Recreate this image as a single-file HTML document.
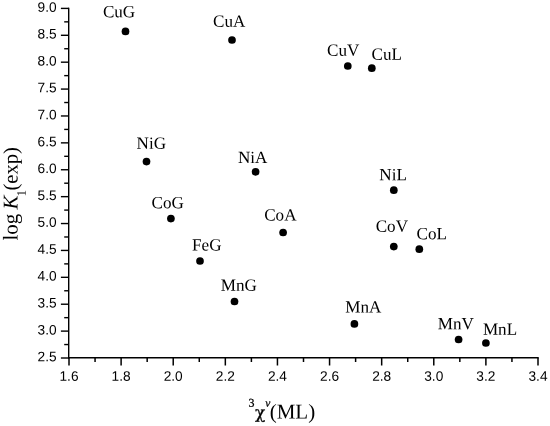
<!DOCTYPE html><html><head><meta charset="utf-8"><title>plot</title><style>html,body{margin:0;padding:0;background:#fff}svg{display:block;will-change:transform}text{text-rendering:geometricPrecision}.t{font-family:"Liberation Sans",sans-serif;font-size:13.7px;fill:#000}.l{font-family:"Liberation Serif",serif;font-size:17.1px;fill:#000}.a{font-family:"Liberation Serif",serif;font-size:21px;fill:#000}.c{font-family:"DejaVu Serif","Liberation Serif",serif;font-size:17px;fill:#000;stroke:#000;stroke-width:.28px}.s{stroke:#000;stroke-width:.25px}</style></head><body>
<svg width="550" height="426" viewBox="0 0 550 426">
<rect width="550" height="426" fill="#fff"/>
<g stroke="#000" stroke-width="1.25" fill="none" stroke-linecap="butt">
<path stroke-width="1.4" d="M68.7 7.75V358.6"/>
<path stroke-width="1.6" d="M68.0 357.8H538.75"/>
<path stroke-width="1.4" d="M60.90 358.00H69.0"/>
<path stroke-width="1.4" d="M64.20 344.55H69.0"/>
<path stroke-width="1.4" d="M60.90 331.11H69.0"/>
<path stroke-width="1.4" d="M64.20 317.66H69.0"/>
<path stroke-width="1.4" d="M60.90 304.22H69.0"/>
<path stroke-width="1.4" d="M64.20 290.77H69.0"/>
<path stroke-width="1.4" d="M60.90 277.32H69.0"/>
<path stroke-width="1.4" d="M64.20 263.88H69.0"/>
<path stroke-width="1.4" d="M60.90 250.43H69.0"/>
<path stroke-width="1.4" d="M64.20 236.98H69.0"/>
<path stroke-width="1.4" d="M60.90 223.54H69.0"/>
<path stroke-width="1.4" d="M64.20 210.09H69.0"/>
<path stroke-width="1.4" d="M60.90 196.65H69.0"/>
<path stroke-width="1.4" d="M64.20 183.20H69.0"/>
<path stroke-width="1.4" d="M60.90 169.75H69.0"/>
<path stroke-width="1.4" d="M64.20 156.31H69.0"/>
<path stroke-width="1.4" d="M60.90 142.86H69.0"/>
<path stroke-width="1.4" d="M64.20 129.42H69.0"/>
<path stroke-width="1.4" d="M60.90 115.97H69.0"/>
<path stroke-width="1.4" d="M64.20 102.52H69.0"/>
<path stroke-width="1.4" d="M60.90 89.08H69.0"/>
<path stroke-width="1.4" d="M64.20 75.63H69.0"/>
<path stroke-width="1.4" d="M60.90 62.18H69.0"/>
<path stroke-width="1.4" d="M64.20 48.74H69.0"/>
<path stroke-width="1.4" d="M60.90 35.29H69.0"/>
<path stroke-width="1.4" d="M64.20 21.85H69.0"/>
<path stroke-width="1.4" d="M60.90 8.40H69.0"/>
<path stroke-width="1.5" d="M69.00 358.0V365.50"/>
<path stroke-width="1.5" d="M95.06 358.0V362.00"/>
<path stroke-width="1.5" d="M121.11 358.0V365.50"/>
<path stroke-width="1.5" d="M147.17 358.0V362.00"/>
<path stroke-width="1.5" d="M173.22 358.0V365.50"/>
<path stroke-width="1.5" d="M199.28 358.0V362.00"/>
<path stroke-width="1.5" d="M225.33 358.0V365.50"/>
<path stroke-width="1.5" d="M251.39 358.0V362.00"/>
<path stroke-width="1.5" d="M277.44 358.0V365.50"/>
<path stroke-width="1.5" d="M303.50 358.0V362.00"/>
<path stroke-width="1.5" d="M329.56 358.0V365.50"/>
<path stroke-width="1.5" d="M355.61 358.0V362.00"/>
<path stroke-width="1.5" d="M381.67 358.0V365.50"/>
<path stroke-width="1.5" d="M407.72 358.0V362.00"/>
<path stroke-width="1.5" d="M433.78 358.0V365.50"/>
<path stroke-width="1.5" d="M459.83 358.0V362.00"/>
<path stroke-width="1.5" d="M485.89 358.0V365.50"/>
<path stroke-width="1.5" d="M511.94 358.0V362.00"/>
<path stroke-width="1.5" d="M538.00 358.0V365.50"/>
</g>
<text class="t" transform="rotate(0.03 56.60 361.30)" x="56.60" y="361.30" text-anchor="end">2.5</text>
<text class="t" transform="rotate(0.03 56.60 334.41)" x="56.60" y="334.41" text-anchor="end">3.0</text>
<text class="t" transform="rotate(0.03 56.60 307.52)" x="56.60" y="307.52" text-anchor="end">3.5</text>
<text class="t" transform="rotate(0.03 56.60 280.62)" x="56.60" y="280.62" text-anchor="end">4.0</text>
<text class="t" transform="rotate(0.03 56.60 253.73)" x="56.60" y="253.73" text-anchor="end">4.5</text>
<text class="t" transform="rotate(0.03 56.60 226.84)" x="56.60" y="226.84" text-anchor="end">5.0</text>
<text class="t" transform="rotate(0.03 56.60 199.95)" x="56.60" y="199.95" text-anchor="end">5.5</text>
<text class="t" transform="rotate(0.03 56.60 173.05)" x="56.60" y="173.05" text-anchor="end">6.0</text>
<text class="t" transform="rotate(0.03 56.60 146.16)" x="56.60" y="146.16" text-anchor="end">6.5</text>
<text class="t" transform="rotate(0.03 56.60 119.27)" x="56.60" y="119.27" text-anchor="end">7.0</text>
<text class="t" transform="rotate(0.03 56.60 92.38)" x="56.60" y="92.38" text-anchor="end">7.5</text>
<text class="t" transform="rotate(0.03 56.60 65.48)" x="56.60" y="65.48" text-anchor="end">8.0</text>
<text class="t" transform="rotate(0.03 56.60 38.59)" x="56.60" y="38.59" text-anchor="end">8.5</text>
<text class="t" transform="rotate(0.03 56.60 11.70)" x="56.60" y="11.70" text-anchor="end">9.0</text>
<text class="t" transform="rotate(0.03 69.00 380.70)" x="69.00" y="380.70" text-anchor="middle">1.6</text>
<text class="t" transform="rotate(0.03 121.11 380.70)" x="121.11" y="380.70" text-anchor="middle">1.8</text>
<text class="t" transform="rotate(0.03 173.22 380.70)" x="173.22" y="380.70" text-anchor="middle">2.0</text>
<text class="t" transform="rotate(0.03 225.33 380.70)" x="225.33" y="380.70" text-anchor="middle">2.2</text>
<text class="t" transform="rotate(0.03 277.44 380.70)" x="277.44" y="380.70" text-anchor="middle">2.4</text>
<text class="t" transform="rotate(0.03 329.56 380.70)" x="329.56" y="380.70" text-anchor="middle">2.6</text>
<text class="t" transform="rotate(0.03 381.67 380.70)" x="381.67" y="380.70" text-anchor="middle">2.8</text>
<text class="t" transform="rotate(0.03 433.78 380.70)" x="433.78" y="380.70" text-anchor="middle">3.0</text>
<text class="t" transform="rotate(0.03 485.89 380.70)" x="485.89" y="380.70" text-anchor="middle">3.2</text>
<text class="t" transform="rotate(0.03 538.00 380.70)" x="538.00" y="380.70" text-anchor="middle">3.4</text>
<circle cx="125.5" cy="31.4" r="3.85"/>
<text class="l" transform="rotate(0.03 102.90 17.35)" x="102.90" y="17.35">CuG</text>
<circle cx="232" cy="40" r="3.85"/>
<text class="l" transform="rotate(0.03 213.00 26.85)" x="213.00" y="26.85">CuA</text>
<circle cx="347.8" cy="66" r="3.85"/>
<text class="l" transform="rotate(0.03 327.00 55.65)" x="327.00" y="55.65">CuV</text>
<circle cx="371.8" cy="68.2" r="3.85"/>
<text class="l" transform="rotate(0.03 371.50 59.65)" x="371.50" y="59.65">CuL</text>
<circle cx="146.5" cy="161.6" r="3.85"/>
<text class="l" transform="rotate(0.03 136.60 148.85)" x="136.60" y="148.85">NiG</text>
<circle cx="255.6" cy="171.8" r="3.85"/>
<text class="l" transform="rotate(0.03 237.90 163.05)" x="237.90" y="163.05">NiA</text>
<circle cx="393.8" cy="190.2" r="3.85"/>
<text class="l" transform="rotate(0.03 379.30 180.15)" x="379.30" y="180.15">NiL</text>
<circle cx="170.9" cy="218.6" r="3.85"/>
<text class="l" transform="rotate(0.03 151.50 208.25)" x="151.50" y="208.25">CoG</text>
<circle cx="283.1" cy="232.5" r="3.85"/>
<text class="l" transform="rotate(0.03 264.20 220.55)" x="264.20" y="220.55">CoA</text>
<circle cx="393.8" cy="246.6" r="3.85"/>
<text class="l" transform="rotate(0.03 375.70 231.65)" x="375.70" y="231.65">CoV</text>
<circle cx="419.3" cy="249.2" r="3.85"/>
<text class="l" transform="rotate(0.03 416.60 239.35)" x="416.60" y="239.35">CoL</text>
<circle cx="200" cy="261" r="3.85"/>
<text class="l" transform="rotate(0.03 192.10 250.45)" x="192.10" y="250.45">FeG</text>
<circle cx="234.5" cy="301.5" r="3.85"/>
<text class="l" transform="rotate(0.03 220.80 290.65)" x="220.80" y="290.65">MnG</text>
<circle cx="354.4" cy="323.9" r="3.85"/>
<text class="l" transform="rotate(0.03 345.20 312.45)" x="345.20" y="312.45">MnA</text>
<circle cx="458.6" cy="339.5" r="3.85"/>
<text class="l" transform="rotate(0.03 437.80 329.35)" x="437.80" y="329.35">MnV</text>
<circle cx="485.9" cy="343" r="3.85"/>
<text class="l" transform="rotate(0.03 482.90 334.75)" x="482.90" y="334.75">MnL</text>
<g transform="translate(17.4,239.6) rotate(-89.97)">
<text id="y_log" class="a" x="-1.0" y="0">log</text>
<text id="y_K" class="a" font-style="italic" x="30.0" y="0">K</text>
<text id="y_1" class="a" style="font-size:13px" x="43.2" y="8.2">1</text>
<text id="y_exp" class="a" style="font-size:20.6px" x="49.1" y="0">(exp)</text>
</g>
<g transform="rotate(0.03 280 418)">
<text id="x_3" class="a s" style="font-size:12px" x="248.6" y="406.8">3</text>
<text id="x_chi" class="c" x="255.0" y="418.3">χ</text>
<text id="x_v" class="a s" font-style="italic" style="font-size:11.5px" x="265.3" y="406.8">v</text>
<text id="x_ML" class="a" x="269.7" y="418.6">(ML)</text>
</g>
</svg></body></html>
